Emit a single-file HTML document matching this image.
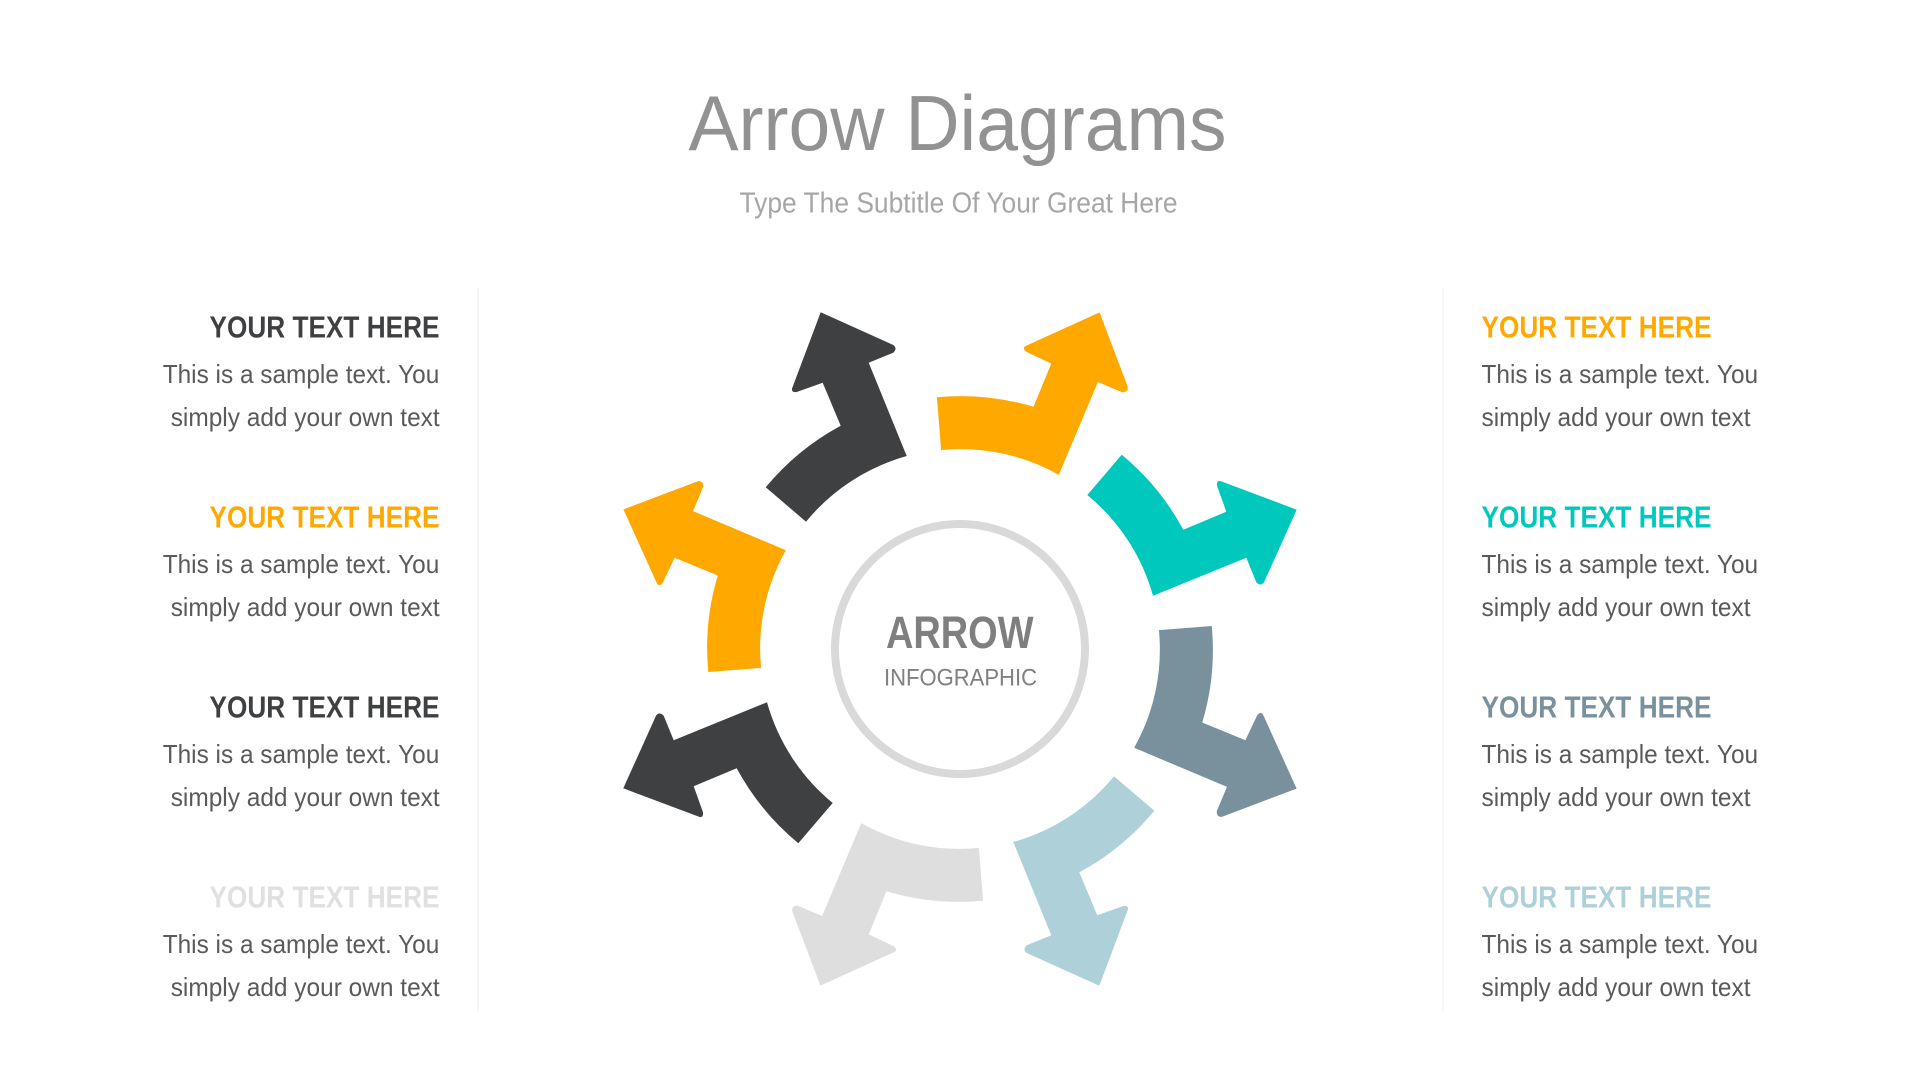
<!DOCTYPE html>
<html>
<head>
<meta charset="utf-8">
<title>Arrow Diagrams</title>
<style>
html,body{margin:0;padding:0;background:#fff;width:1920px;height:1080px;overflow:hidden}
svg{display:block}
text{font-family:"Liberation Sans",sans-serif}
.h{font-weight:bold;font-size:30.5px}
.b{font-size:26px;fill:#5a5a5a}
</style>
</head>
<body>
<svg width="1920" height="1080" viewBox="0 0 1920 1080" xmlns="http://www.w3.org/2000/svg">
<rect width="1920" height="1080" fill="#fff"/>

<text x="688.5" y="150" font-size="78" fill="#929292" textLength="538" lengthAdjust="spacingAndGlyphs">Arrow Diagrams</text>
<text x="739.5" y="212.4" font-size="28.5" fill="#a6a6a6" textLength="438" lengthAdjust="spacingAndGlyphs">Type The Subtitle Of Your Great Here</text>

<rect x="477" y="288" width="2" height="724" fill="#f7f7f7"/>
<rect x="1442" y="288" width="2" height="724" fill="#f7f7f7"/>

<g transform="translate(960 649)">
  <g id="arrows">
    <path transform="rotate(0)" fill="#3f4042" d="M-139.3-336.7L-66.7-304Q-62.3-300.7-66.7-296.3L-91.3-286.3L-53.3-193A200 200 0 0 0-154-127.3L-194.3-161.7A253 253 0 0 1-119.3-223.3L-137.3-266.3L-163.3-257Q-170-256.3-167.3-262.3Z"/>
    <path transform="rotate(45)" fill="#ffa800" d="M-139.3-336.7L-66.7-304Q-62.3-300.7-66.7-296.3L-91.3-286.3L-53.3-193A200 200 0 0 0-154-127.3L-194.3-161.7A253 253 0 0 1-119.3-223.3L-137.3-266.3L-163.3-257Q-170-256.3-167.3-262.3Z"/>
    <path transform="rotate(90)" fill="#00c8bc" d="M-139.3-336.7L-66.7-304Q-62.3-300.7-66.7-296.3L-91.3-286.3L-53.3-193A200 200 0 0 0-154-127.3L-194.3-161.7A253 253 0 0 1-119.3-223.3L-137.3-266.3L-163.3-257Q-170-256.3-167.3-262.3Z"/>
    <path transform="rotate(135)" fill="#78919d" d="M-139.3-336.7L-66.7-304Q-62.3-300.7-66.7-296.3L-91.3-286.3L-53.3-193A200 200 0 0 0-154-127.3L-194.3-161.7A253 253 0 0 1-119.3-223.3L-137.3-266.3L-163.3-257Q-170-256.3-167.3-262.3Z"/>
    <path transform="rotate(180)" fill="#aed1d9" d="M-139.3-336.7L-66.7-304Q-62.3-300.7-66.7-296.3L-91.3-286.3L-53.3-193A200 200 0 0 0-154-127.3L-194.3-161.7A253 253 0 0 1-119.3-223.3L-137.3-266.3L-163.3-257Q-170-256.3-167.3-262.3Z"/>
    <path transform="rotate(225)" fill="#dedede" d="M-139.3-336.7L-66.7-304Q-62.3-300.7-66.7-296.3L-91.3-286.3L-53.3-193A200 200 0 0 0-154-127.3L-194.3-161.7A253 253 0 0 1-119.3-223.3L-137.3-266.3L-163.3-257Q-170-256.3-167.3-262.3Z"/>
    <path transform="rotate(270)" fill="#3f4042" d="M-139.3-336.7L-66.7-304Q-62.3-300.7-66.7-296.3L-91.3-286.3L-53.3-193A200 200 0 0 0-154-127.3L-194.3-161.7A253 253 0 0 1-119.3-223.3L-137.3-266.3L-163.3-257Q-170-256.3-167.3-262.3Z"/>
    <path transform="rotate(315)" fill="#ffa800" d="M-139.3-336.7L-66.7-304Q-62.3-300.7-66.7-296.3L-91.3-286.3L-53.3-193A200 200 0 0 0-154-127.3L-194.3-161.7A253 253 0 0 1-119.3-223.3L-137.3-266.3L-163.3-257Q-170-256.3-167.3-262.3Z"/>
  </g>
  <circle r="125" fill="#fff" stroke="#d9d9d9" stroke-width="8"/>
</g>

<text x="886" y="648" font-size="45" font-weight="bold" fill="#7f7f7f" textLength="147.5" lengthAdjust="spacingAndGlyphs">ARROW</text>
<text x="884" y="685.7" font-size="24" fill="#808080" textLength="153" lengthAdjust="spacingAndGlyphs">INFOGRAPHIC</text>

<!-- Left column -->
<text class="h" x="209.5" y="337.7" fill="#3f4042" textLength="230" lengthAdjust="spacingAndGlyphs">YOUR TEXT HERE</text>
<text class="b" x="162.7" y="383" textLength="276.6" lengthAdjust="spacingAndGlyphs">This is a sample text. You</text>
<text class="b" x="170.7" y="426" textLength="269" lengthAdjust="spacingAndGlyphs">simply add your own text</text>

<text class="h" x="209.5" y="527.7" fill="#ffa800" textLength="230" lengthAdjust="spacingAndGlyphs">YOUR TEXT HERE</text>
<text class="b" x="162.7" y="573" textLength="276.6" lengthAdjust="spacingAndGlyphs">This is a sample text. You</text>
<text class="b" x="170.7" y="616" textLength="269" lengthAdjust="spacingAndGlyphs">simply add your own text</text>

<text class="h" x="209.5" y="717.7" fill="#3f4042" textLength="230" lengthAdjust="spacingAndGlyphs">YOUR TEXT HERE</text>
<text class="b" x="162.7" y="763" textLength="276.6" lengthAdjust="spacingAndGlyphs">This is a sample text. You</text>
<text class="b" x="170.7" y="806" textLength="269" lengthAdjust="spacingAndGlyphs">simply add your own text</text>

<text class="h" x="209.5" y="907.7" fill="#e0e0e0" textLength="230" lengthAdjust="spacingAndGlyphs">YOUR TEXT HERE</text>
<text class="b" x="162.7" y="953" textLength="276.6" lengthAdjust="spacingAndGlyphs">This is a sample text. You</text>
<text class="b" x="170.7" y="996" textLength="269" lengthAdjust="spacingAndGlyphs">simply add your own text</text>

<!-- Right column -->
<text class="h" x="1481.5" y="337.7" fill="#ffa800" textLength="230" lengthAdjust="spacingAndGlyphs">YOUR TEXT HERE</text>
<text class="b" x="1481.5" y="383" textLength="276.6" lengthAdjust="spacingAndGlyphs">This is a sample text. You</text>
<text class="b" x="1481.5" y="426" textLength="269" lengthAdjust="spacingAndGlyphs">simply add your own text</text>

<text class="h" x="1481.5" y="527.7" fill="#00c8bc" textLength="230" lengthAdjust="spacingAndGlyphs">YOUR TEXT HERE</text>
<text class="b" x="1481.5" y="573" textLength="276.6" lengthAdjust="spacingAndGlyphs">This is a sample text. You</text>
<text class="b" x="1481.5" y="616" textLength="269" lengthAdjust="spacingAndGlyphs">simply add your own text</text>

<text class="h" x="1481.5" y="717.7" fill="#78919d" textLength="230" lengthAdjust="spacingAndGlyphs">YOUR TEXT HERE</text>
<text class="b" x="1481.5" y="763" textLength="276.6" lengthAdjust="spacingAndGlyphs">This is a sample text. You</text>
<text class="b" x="1481.5" y="806" textLength="269" lengthAdjust="spacingAndGlyphs">simply add your own text</text>

<text class="h" x="1481.5" y="907.7" fill="#aed1d9" textLength="230" lengthAdjust="spacingAndGlyphs">YOUR TEXT HERE</text>
<text class="b" x="1481.5" y="953" textLength="276.6" lengthAdjust="spacingAndGlyphs">This is a sample text. You</text>
<text class="b" x="1481.5" y="996" textLength="269" lengthAdjust="spacingAndGlyphs">simply add your own text</text>
</svg>
</body>
</html>
